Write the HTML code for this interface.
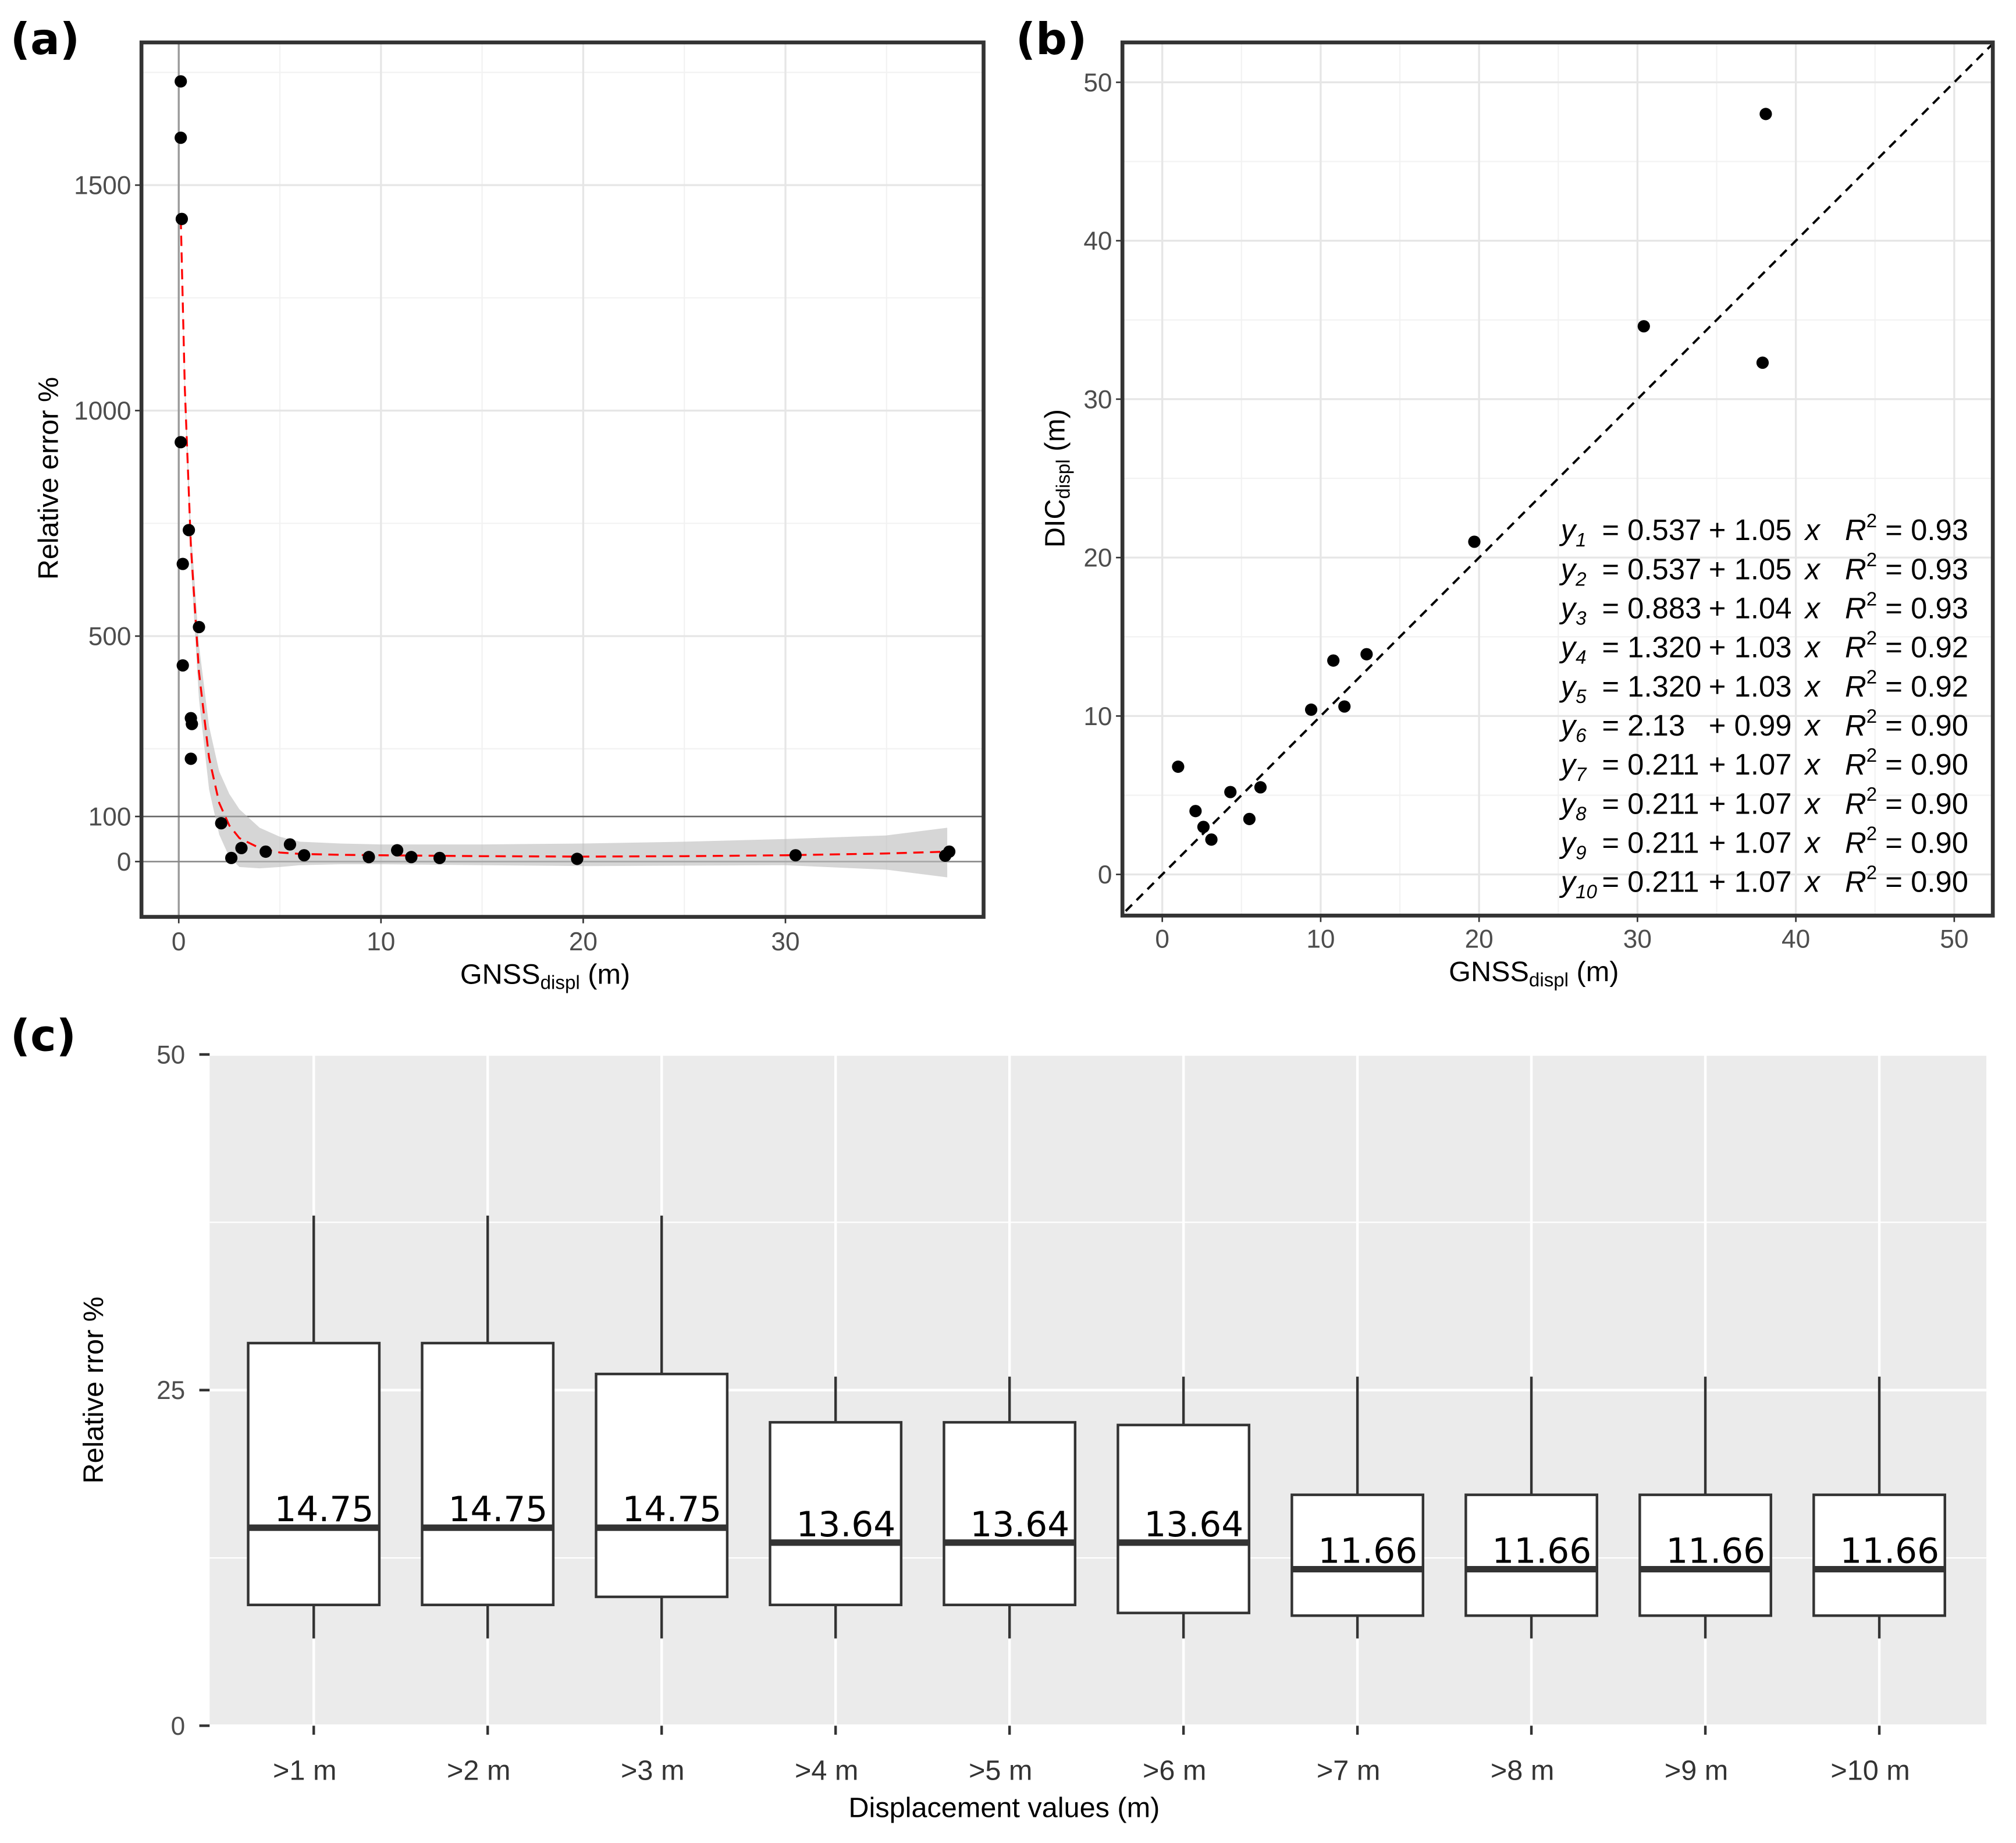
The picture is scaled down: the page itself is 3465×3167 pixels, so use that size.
<!DOCTYPE html>
<html><head><meta charset="utf-8"><style>
html,body{margin:0;padding:0;background:#fff}
svg{display:block;font-family:"Liberation Sans",sans-serif}
</style></head><body>
<svg id="fig" width="3465" height="3167" viewBox="0 0 1568 1433.2" xmlns="http://www.w3.org/2000/svg">
<g id="pa"></g>
<g id="pb"></g>
<g id="pc"></g>
</svg>
<script>
// Panel a data
const aX=[0.1,0.1,0.15,0.1,0.2,0.5,0.2,1.0,0.6,0.65,0.6,2.1,2.6,3.1,4.3,5.5,6.2,9.4,10.8,11.5,12.9,19.7,30.5,37.9,38.1];
const aY=[1730,1605,1425,930,660,735,435,520,318,305,228,85,8,30,22,38,14,10,25,10,8,6,14,13,22];
const fitX=[0.1,0.3,0.6,1,1.5,2,2.5,3,4,5,6,8,10,15,20,25,30,35,38];
const fitY=[1425,1050,700,420,230,130,80,52,30,20,17,15,14,12,11,12,14,18,22];
const bandLo=[1425,1030,660,360,160,60,10,-12,-15,-12,-8,-6,-6,-8,-10,-9,-8,-18,-35];
const bandHi=[1425,1070,740,480,300,200,150,116,75,55,44,40,38,38,40,44,50,58,75];
const aXTicks=[0,10,20,30];
const aYTicks=[0,100,500,1000,1500];
// Panel b data
const bX=[1.0,2.1,2.6,3.1,4.3,5.5,6.2,9.4,10.8,11.5,12.9,19.7,30.4,37.9,38.1];
const bY=[6.8,4.0,3.0,2.2,5.2,3.5,5.5,10.4,13.5,10.6,13.9,21.0,34.6,32.3,48.0];
const bTicks=[0,10,20,30,40,50];
const eqInter=["0.537","0.537","0.883","1.320","1.320","2.13","0.211","0.211","0.211","0.211"];
const eqSlope=["1.05","1.05","1.04","1.03","1.03","0.99","1.07","1.07","1.07","1.07"];
const eqR2=["0.93","0.93","0.93","0.92","0.92","0.90","0.90","0.90","0.90","0.90"];
// Panel c data
const cCats=[">1 m",">2 m",">3 m",">4 m",">5 m",">6 m",">7 m",">8 m",">9 m",">10 m"];
const cLow=[6.5,6.5,6.5,6.5,6.5,6.5,6.5,6.5,6.5,6.5];
const cQ1=[9.0,9.0,9.6,9.0,9.0,8.4,8.2,8.2,8.2,8.2];
const cMed=[14.75,14.75,14.75,13.64,13.64,13.64,11.66,11.66,11.66,11.66];
const cQ3=[28.5,28.5,26.2,22.6,22.6,22.4,17.2,17.2,17.2,17.2];
const cHigh=[38,38,38,26,26,26,26,26,26,26];
const cTicks=[0,25,50];

const NS="http://www.w3.org/2000/svg";
function el(p,t,a,txt){const e=document.createElementNS(NS,t);for(const k in a)e.setAttribute(k,a[k]);if(txt!==undefined)e.textContent=txt;p.appendChild(e);return e;}

// ---- Panel a
const pa=document.getElementById('pa');
const ax=v=>139+v*15.73, ay=v=>670-v*0.3507;
let t=el(pa,'text',{x:8,y:42,'font-size':34,'font-weight':'bold','font-family':'DejaVu Sans, sans-serif'},'(a)');

const clipA=el(pa,'clipPath',{id:'ca'});el(clipA,'rect',{x:110,y:33,width:655,height:680});
const ga=el(pa,'g',{'clip-path':'url(#ca)'});
[5,15,25,35].forEach(v=>el(ga,'line',{x1:ax(v),x2:ax(v),y1:33,y2:713,stroke:'#f2f2f2','stroke-width':1}));
[250,750,1250,1750].forEach(v=>el(ga,'line',{x1:110,x2:765,y1:ay(v),y2:ay(v),stroke:'#f2f2f2','stroke-width':1}));
aXTicks.forEach(v=>el(ga,'line',{x1:ax(v),x2:ax(v),y1:33,y2:713,stroke:'#e6e6e6','stroke-width':1.5}));
[500,1000,1500].forEach(v=>el(ga,'line',{x1:110,x2:765,y1:ay(v),y2:ay(v),stroke:'#e6e6e6','stroke-width':1.5}));
el(ga,'line',{x1:ax(0),x2:ax(0),y1:33,y2:713,stroke:'#999','stroke-width':1.5});
el(ga,'line',{x1:110,x2:765,y1:ay(0),y2:ay(0),stroke:'#888','stroke-width':1.2});
el(ga,'line',{x1:110,x2:765,y1:ay(100),y2:ay(100),stroke:'#666','stroke-width':1.2});
let bd='';fitX.forEach((x,i)=>{bd+=(i?'L':'M')+ax(x)+','+ay(bandHi[i]);});
for(let i=fitX.length-1;i>=0;i--)bd+='L'+ax(fitX[i])+','+ay(bandLo[i]);
t=el(ga,'path',{d:bd+'Z',fill:'#bbb','fill-opacity':0.6});
let fd='';fitX.forEach((x,i)=>{fd+=(i?'L':'M')+ax(x)+','+ay(fitY[i]);});
t=el(ga,'path',{d:fd,fill:'none',stroke:'#f00','stroke-width':1.5,'stroke-dasharray':'8,5'});
aX.forEach((x,i)=>{const c=el(ga,'circle',{cx:ax(x),cy:ay(aY[i]),r:4.8,fill:'#000'});

});
el(pa,'rect',{x:110,y:33,width:655,height:680,fill:'none',stroke:'#333','stroke-width':3});
aXTicks.forEach(v=>{el(pa,'line',{x1:ax(v),x2:ax(v),y1:713,y2:718,stroke:'#333','stroke-width':1.2});
const e=el(pa,'text',{x:ax(v),y:739,'text-anchor':'middle','font-size':20,fill:'#4d4d4d'},String(v));
});
aYTicks.forEach(v=>{el(pa,'line',{x1:105,x2:110,y1:ay(v),y2:ay(v),stroke:'#333','stroke-width':1.2});
const e=el(pa,'text',{x:102,y:ay(v)+7,'text-anchor':'end','font-size':20,fill:'#4d4d4d'},String(v));
});
t=el(pa,'text',{x:424,y:765,'text-anchor':'middle','font-size':22,fill:'#000'});
t.innerHTML='GNSS<tspan font-size="15" dy="4">displ</tspan><tspan dy="-4"> (m)</tspan>';

t=el(pa,'text',{x:45,y:372,'text-anchor':'middle','font-size':22,transform:'rotate(-90 45 372)'},'Relative error %');


// ---- Panel b
const pb=document.getElementById('pb');
const bx=v=>904+v*12.32, by=v=>680-v*12.32;
t=el(pb,'text',{x:790,y:42,'font-size':34,'font-weight':'bold','font-family':'DejaVu Sans, sans-serif'},'(b)');

const clipB=el(pb,'clipPath',{id:'cb'});el(clipB,'rect',{x:873,y:33,width:677,height:679});
const gb=el(pb,'g',{'clip-path':'url(#cb)'});
[5,15,25,35,45].forEach(v=>{el(gb,'line',{x1:bx(v),x2:bx(v),y1:33,y2:712,stroke:'#f2f2f2','stroke-width':1});el(gb,'line',{x1:873,x2:1550,y1:by(v),y2:by(v),stroke:'#f2f2f2','stroke-width':1});});
bTicks.forEach(v=>{el(gb,'line',{x1:bx(v),x2:bx(v),y1:33,y2:712,stroke:'#e6e6e6','stroke-width':1.5});el(gb,'line',{x1:873,x2:1550,y1:by(v),y2:by(v),stroke:'#e6e6e6','stroke-width':1.5});});
t=el(gb,'line',{x1:bx(-3),y1:by(-3),x2:bx(53),y2:by(53),stroke:'#000','stroke-width':1.8,'stroke-dasharray':'7,5'});

bX.forEach((x,i)=>{const c=el(gb,'circle',{cx:bx(x),cy:by(bY[i]),r:4.8,fill:'#000'});

});
el(pb,'rect',{x:873,y:33,width:677,height:679,fill:'none',stroke:'#333','stroke-width':3});
bTicks.forEach(v=>{el(pb,'line',{x1:bx(v),x2:bx(v),y1:712,y2:717,stroke:'#333','stroke-width':1.2});
let e=el(pb,'text',{x:bx(v),y:737,'text-anchor':'middle','font-size':20,fill:'#4d4d4d'},String(v));

el(pb,'line',{x1:868,x2:873,y1:by(v),y2:by(v),stroke:'#333','stroke-width':1.2});
e=el(pb,'text',{x:865,y:by(v)+7,'text-anchor':'end','font-size':20,fill:'#4d4d4d'},String(v));
});
t=el(pb,'text',{x:1193,y:763,'text-anchor':'middle','font-size':22});
t.innerHTML='GNSS<tspan font-size="15" dy="4">displ</tspan><tspan dy="-4"> (m)</tspan>';

t=el(pb,'text',{x:828,y:372,'text-anchor':'middle','font-size':22,transform:'rotate(-90 828 372)'});
t.innerHTML='DIC<tspan font-size="15" dy="4">displ</tspan><tspan dy="-4"> (m)</tspan>';

eqInter.forEach((a,i)=>{const y=420+i*30.4;
const g=el(pb,'g',{'font-size':23});


const e1=el(g,'text',{x:1214,y:y});
e1.innerHTML='<tspan font-style="italic">y</tspan><tspan font-style="italic" font-size="15" dy="5">'+(i+1)+'</tspan>';
el(g,'text',{x:1246,y:y},'= '+a);
el(g,'text',{x:1329,y:y},'+ '+eqSlope[i]);
el(g,'text',{x:1404,y:y,'font-style':'italic'},'x');
const e2=el(g,'text',{x:1435,y:y});
e2.innerHTML='<tspan font-style="italic">R</tspan><tspan font-size="15" dy="-10">2</tspan><tspan dy="10"> = '+eqR2[i]+'</tspan>';});

// ---- Panel c
const pc=document.getElementById('pc');
const cy=v=>1342-v*10.44, cx=i=>244+i*135.3;
t=el(pc,'text',{x:8,y:817,'font-size':34,'font-weight':'bold','font-family':'DejaVu Sans, sans-serif'},'(c)');

t=el(pc,'rect',{x:163,y:820,width:1382,height:522,fill:'#ebebeb'});

[12.5,37.5].forEach(v=>el(pc,'line',{x1:163,x2:1545,y1:cy(v),y2:cy(v),stroke:'#fff','stroke-width':1}));
cTicks.forEach(v=>el(pc,'line',{x1:163,x2:1545,y1:cy(v),y2:cy(v),stroke:'#fff','stroke-width':2}));
cCats.forEach((c,i)=>el(pc,'line',{x1:cx(i),x2:cx(i),y1:820,y2:1342,stroke:'#fff','stroke-width':2}));
cCats.forEach((c,i)=>{const x=cx(i),w=102;
const g=el(pc,'g',{});


el(g,'line',{x1:x,x2:x,y1:cy(cLow[i]),y2:cy(cQ1[i]),stroke:'#333','stroke-width':2});
el(g,'line',{x1:x,x2:x,y1:cy(cQ3[i]),y2:cy(cHigh[i]),stroke:'#333','stroke-width':2});
el(g,'rect',{x:x-w/2,y:cy(cQ3[i]),width:w,height:cy(cQ1[i])-cy(cQ3[i]),fill:'#fff',stroke:'#333','stroke-width':2});
el(g,'line',{x1:x-w/2,x2:x+w/2,y1:cy(cMed[i]),y2:cy(cMed[i]),stroke:'#333','stroke-width':5});
el(g,'text',{x:x+8,y:cy(cMed[i])-5,'text-anchor':'middle','font-size':27,'font-family':'DejaVu Sans, sans-serif'},cMed[i].toFixed(2));
el(pc,'line',{x1:x,x2:x,y1:1342,y2:1349,stroke:'#333','stroke-width':2});
const e=el(pc,'text',{x:x-7,y:1384,'text-anchor':'middle','font-size':22,fill:'#333'},c);
});
cTicks.forEach(v=>{el(pc,'line',{x1:155,x2:163,y1:cy(v),y2:cy(v),stroke:'#333','stroke-width':2});
const e=el(pc,'text',{x:144,y:cy(v)+7,'text-anchor':'end','font-size':20,fill:'#4d4d4d'},String(v));
});
t=el(pc,'text',{x:781,y:1413,'text-anchor':'middle','font-size':22},'Displacement values (m)');

t=el(pc,'text',{x:80,y:1081,'text-anchor':'middle','font-size':22,transform:'rotate(-90 80 1081)'},'Relative rror %');

</script>
</body></html>
